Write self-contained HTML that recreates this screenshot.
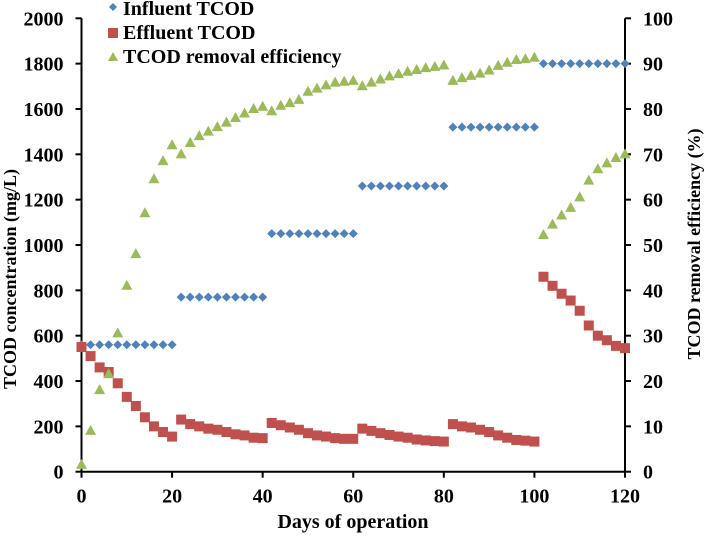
<!DOCTYPE html>
<html><head><meta charset="utf-8"><style>
html,body{margin:0;padding:0;background:#fff;}
svg{display:block;font-family:"Liberation Serif",serif;font-weight:bold;}
</style></head><body>
<svg id="chart" width="704" height="537" viewBox="0 0 704 537" xmlns="http://www.w3.org/2000/svg">
<g id="axes"></g><g id="marks"></g>
<g>
<path d="M113 3 L117 7 L113 11 L109 7Z" fill="#4F81BD"/>
<text x="123" y="15" font-size="20">Influent TCOD</text>
<rect x="108" y="28" width="10" height="10" fill="#C0504D"/>
<text x="123" y="39" font-size="20">Effluent TCOD</text>
<path d="M113 52 L118 61 L108 61Z" fill="#9BBB59"/>
<text x="123" y="63" font-size="20">TCOD removal efficiency</text>
</g>
<text x="353" y="528" font-size="20" text-anchor="middle">Days of operation</text>
<text transform="translate(16,279) rotate(-90)" font-size="18" text-anchor="middle">TCOD concentration (mg/L)</text>
<text transform="translate(700,244) rotate(-90)" font-size="18" text-anchor="middle">TCOD removal efficiency (%)</text>
</svg>
<script>
const days = [];
for (let d = 0; d <= 120; d += 2) days.push(d);
const influent = [560,560,560,560,560,560,560,560,560,560,560,
 770,770,770,770,770,770,770,770,770,770,
 1050,1050,1050,1050,1050,1050,1050,1050,1050,1050,
 1260,1260,1260,1260,1260,1260,1260,1260,1260,1260,
 1520,1520,1520,1520,1520,1520,1520,1520,1520,1520,
 1800,1800,1800,1800,1800,1800,1800,1800,1800,1800];
const effluent = [550,510,460,440,390,330,290,240,200,175,155,
 230,210,200,190,185,175,165,160,150,148,
 215,205,195,185,170,160,155,148,145,145,
 190,180,170,162,155,150,142,138,135,133,
 210,200,195,185,175,160,150,140,137,133,
 860,820,785,755,710,645,600,580,555,545];
const efficiency = [1.5,9,18,21.5,30.5,41,48,57,64.5,68.5,72,
 70,72.5,74,75,76,77,78,79,80,80.5,
 79.5,80.7,81.3,82,83.8,84.5,85.2,85.8,86,86.2,
 85,85.8,86.5,87.2,87.7,88.2,88.6,89,89.3,89.6,
 86.2,86.8,87.3,87.8,88.5,89.5,90.2,90.8,91,91.3,
 52.2,54.5,56.5,58.2,60.5,64.2,66.7,68,69.2,70];
const xTicks = [0,20,40,60,80,100,120];
const yLeftTicks = [0,200,400,600,800,1000,1200,1400,1600,1800,2000];
const yRightTicks = [0,10,20,30,40,50,60,70,80,90,100];

const X0=81.5,X1=625,Y0=471.7,Y1=18.3;
const xs=d=>X0+(d/120)*(X1-X0);
const yl=v=>Y0-(v/2000)*(Y0-Y1);
const yr=v=>Y0-(v/100)*(Y0-Y1);
const NS="http://www.w3.org/2000/svg";
function mk(tag,attrs,parent){const e=document.createElementNS(NS,tag);for(const k in attrs)e.setAttribute(k,attrs[k]);parent.appendChild(e);return e;}
const ax=document.getElementById('axes'), mg=document.getElementById('marks');
let e;
e=mk('line',{x1:X0,y1:Y0,x2:X1,y2:Y0,stroke:'#000','stroke-width':2},ax);


e=mk('line',{x1:X0,y1:Y1,x2:X0,y2:Y0,stroke:'#000','stroke-width':2},ax);


e=mk('line',{x1:X1,y1:Y1,x2:X1,y2:Y0,stroke:'#000','stroke-width':2},ax);


xTicks.forEach(t=>{
 mk('line',{x1:xs(t),y1:Y0,x2:xs(t),y2:Y0+6,stroke:'#000','stroke-width':2},ax);
 e=mk('text',{x:xs(t),y:Y0+31,'font-size':20,'text-anchor':'middle'},ax);e.textContent=t;
 
 
});
yLeftTicks.forEach(t=>{
 mk('line',{x1:X0-6,y1:yl(t),x2:X0,y2:yl(t),stroke:'#000','stroke-width':2},ax);
 e=mk('text',{x:X0-18,y:yl(t)+7,'font-size':20,'text-anchor':'end'},ax);e.textContent=t;
 
 
});
yRightTicks.forEach(t=>{
 mk('line',{x1:X1,y1:yr(t),x2:X1+6,y2:yr(t),stroke:'#000','stroke-width':2},ax);
 e=mk('text',{x:X1+18,y:yr(t)+7,'font-size':20,'text-anchor':'start'},ax);e.textContent=t;
 
 
});
days.forEach((d,i)=>{
 const x=xs(d);let y=yl(influent[i]);
 e=mk('path',{d:`M${x} ${y-4.5}L${x+4.5} ${y}L${x} ${y+4.5}L${x-4.5} ${y}Z`,fill:'#4F81BD'},mg);
 
 
});
days.forEach((d,i)=>{
 const x=xs(d),y=yl(effluent[i]);
 e=mk('rect',{x:x-5,y:y-5,width:10,height:10,fill:'#C0504D'},mg);
 
 
});
days.forEach((d,i)=>{
 const x=xs(d),y=yr(efficiency[i]);
 e=mk('path',{d:`M${x} ${y-6}L${x+5.5} ${y+4}L${x-5.5} ${y+4}Z`,fill:'#9BBB59'},mg);
 
 
});
</script>
</body></html>
